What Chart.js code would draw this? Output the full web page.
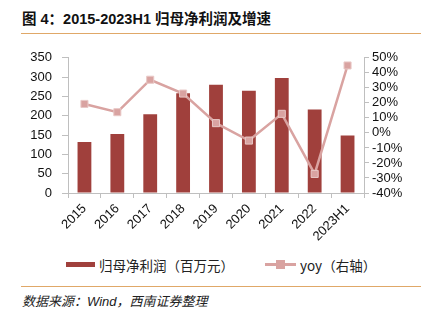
<!DOCTYPE html>
<html>
<head>
<meta charset="utf-8">
<script src="https://cdn.jsdelivr.net/npm/chart.js@4"></script>
<style>
  body { margin: 0; background: #fff; }
  #wrap { position: relative; width: 432px; height: 323px; overflow: hidden; }
  .title { position: absolute; left: 22px; top: 7px; font: bold 14.5px "Liberation Sans", "Noto Sans CJK SC", sans-serif; color: #111; white-space: nowrap; }
  .rule { position: absolute; left: 21px; width: 400px; height: 1px; background: #E0A868; }
  .src { position: absolute; left: 22px; top: 291px; font: italic 13px "Liberation Sans", "Noto Sans CJK SC", sans-serif; color: #222; white-space: nowrap; }
  #chartBox { position: absolute; left: 0; top: 40px; width: 432px; height: 210px; }
  .legend { position: absolute; top: 255px; left: 0; width: 432px; font: 13.5px "Noto Sans CJK SC", sans-serif; color: #222; }
  .legend span { position: absolute; white-space: nowrap; }
</style>
</head>
<body>
<div id="wrap">
  <div class="title">图 4：2015-2023H1 归母净利润及增速</div>
  <div class="rule" style="top:33px"></div>
  <div id="chartBox"><canvas id="c" width="432" height="210"></canvas></div>
  <div class="legend">
    <span style="left:66px;top:7px;width:29px;height:5px;background:#A0403C"></span>
    <span style="left:99px;top:0">归母净利润（百万元）</span>
    <span style="left:265px;top:8px;width:31px;height:2.5px;background:#D9A3A1"></span>
    <span style="left:276px;top:5px;width:9px;height:9px;background:#D9A3A1"></span>
    <span style="left:300px;top:0">yoy（右轴）</span>
  </div>
  <div class="rule" style="top:286px"></div>
  <div class="src">数据来源：Wind，西南证券整理</div>
</div>
<script>
const categories = ['2015', '2016', '2017', '2018', '2019', '2020', '2021', '2022', '2023H1']
const netProfit = [132, 153, 204, 258, 280, 265, 298, 216, 149] // 百万元
const yoy = [19.3, 13.8, 35.4, 26.2, 6.5, -5.1, 12.7, -27.3, 44.9] // %

const axisColor = '#BFBFBF'
const tickFont = { family: 'Liberation Sans, Arial, sans-serif', size: 13 }

let ctx = document.getElementById('c').getContext('2d')

new Chart(ctx, {
  data: {
    labels: categories,
    datasets: [
      {
        type: 'line',
        label: 'yoy（右轴）',
        data: yoy,
        yAxisID: 'y1',
        borderColor: '#D9A3A1',
        borderWidth: 2.5,
        pointStyle: 'rect',
        pointRadius: 5,
        pointBackgroundColor: '#D9A3A1',
        pointBorderColor: '#E9C9C7',
        pointBorderWidth: 1,
        tension: 0,
        order: 1,
      },
      {
        type: 'bar',
        label: '归母净利润（百万元）',
        data: netProfit,
        yAxisID: 'y',
        backgroundColor: '#A0403C',
        barPercentage: 0.42,
        categoryPercentage: 1,
        order: 2,
      },
    ],
  },
  options: {
    responsive: false,
    animation: false,
    layout: { padding: { top: 13, left: 0, right: 0, bottom: 0 } },
    plugins: {
      legend: { display: false },
      tooltip: { enabled: false },
    },
    scales: {
      x: {
        grid: { display: true, drawOnChartArea: false, offset: true, color: axisColor, tickLength: 5 },
        border: { color: axisColor },
        ticks: { font: tickFont, color: '#111', maxRotation: 45, minRotation: 45, padding: 3 },
        afterFit(scale) { scale.height = 57 },
      },
      y: {
        position: 'left',
        min: 0,
        max: 350,
        ticks: { stepSize: 50, font: tickFont, color: '#111', padding: 10 },
        grid: { drawOnChartArea: false, color: axisColor, tickLength: 6 },
        border: { color: axisColor },
        afterFit(scale) { scale.width = 68 },
      },
      y1: {
        position: 'right',
        min: -40,
        max: 50,
        ticks: { stepSize: 10, autoSkip: false, font: tickFont, color: '#111', padding: 3, callback: (v) => v + '%' },
        grid: { drawOnChartArea: false, color: axisColor, tickLength: 5 },
        border: { color: axisColor },
        afterFit(scale) { scale.width = 68 },
      },
    },
  },
})
</script>
</body>
</html>
